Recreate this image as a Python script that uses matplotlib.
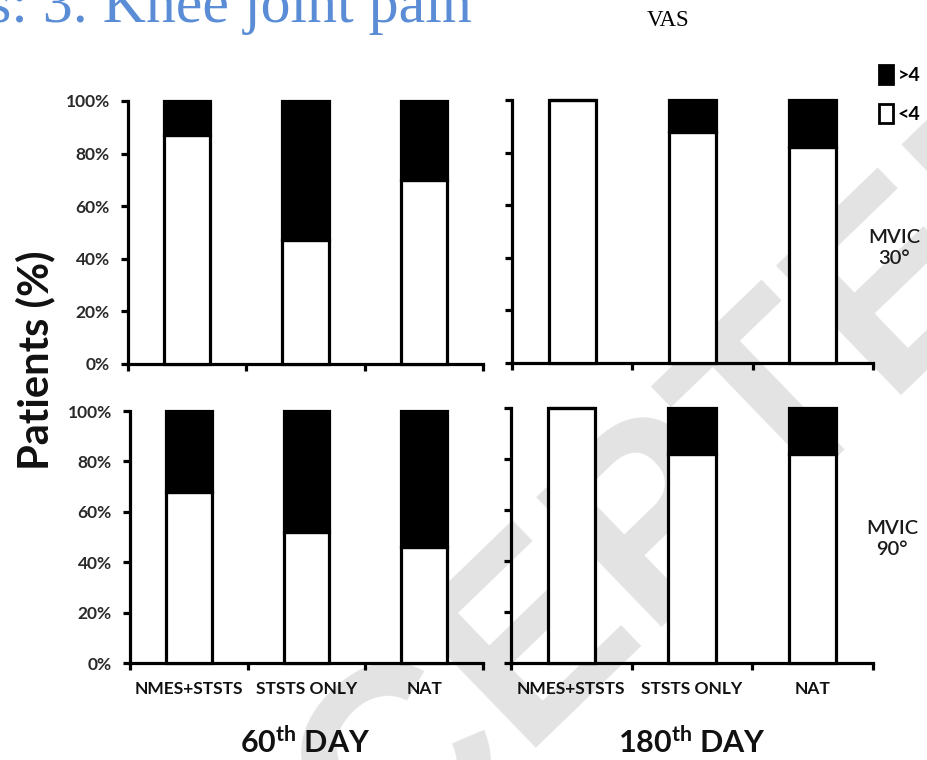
import matplotlib
matplotlib.use('Agg')
import matplotlib.pyplot as plt
from matplotlib.patches import Patch

groups = ['NMES+STSTS', 'STSTS ONLY', 'NAT']
# percent of patients with VAS < 4 (remainder is VAS > 4)
low_60_mvic30 = [87, 47, 70]
low_180_mvic30 = [100, 88, 82]
low_60_mvic90 = [68, 52, 46]
low_180_mvic90 = [100, 82, 82]
yticks = [0, 20, 40, 60, 80, 100]
ytick_labels = ['0%', '20%', '40%', '60%', '80%', '100%']

plt.rcParams['font.family'] = ['Lato', 'DejaVu Sans']
plt.rcParams['mathtext.fontset'] = 'custom'
plt.rcParams['mathtext.rm'] = 'Lato'
plt.rcParams['mathtext.bf'] = 'Lato:bold'

W, H = 927.0, 760.0
fig = plt.figure(figsize=(W / 100, H / 100), dpi=100)


def box(x0, y0, x1, y1):
    # pixel box (top-left origin) -> figure fraction rect
    return [x0 / W, 1 - y1 / H, (x1 - x0) / W, (y1 - y0) / H]


def draw_panel(rect, low, show_y, show_x):
    ax = fig.add_axes(rect)
    ax.set_facecolor('none')
    x = list(range(len(groups)))
    high = [100 - v for v in low]
    ax.bar(x, low, width=0.39, color='white', edgecolor='black', linewidth=2.3,
           zorder=3, clip_on=False)
    ax.bar(x, high, bottom=low, width=0.39, color='black', edgecolor='black',
           linewidth=2.3, zorder=3, clip_on=False)
    ax.set_xlim(-0.5, 2.5)
    ax.set_ylim(0, 100)
    for s in ['top', 'right']:
        ax.spines[s].set_visible(False)
    for s in ['left', 'bottom']:
        ax.spines[s].set_linewidth(2.3)
    ax.set_yticks(yticks)
    ax.set_yticklabels(ytick_labels if show_y else [])
    ax.set_xticks([-0.5, 0.5, 1.5, 2.5])
    ax.set_xticklabels([])
    ax.set_xticks(x, minor=True)
    ax.set_xticklabels(groups if show_x else [], minor=True)
    ax.tick_params(axis='both', which='major', direction='out', length=5, width=2.3)
    ax.tick_params(axis='y', labelsize=12.5, pad=8, labelcolor='#2a2a2a')
    ax.tick_params(axis='x', which='minor', length=0, pad=13, labelsize=12.5,
                   labelcolor='#111111')
    for lab in ax.get_yticklabels() + ax.get_xticklabels(minor=True):
        lab.set_fontweight('bold')
    return ax


draw_panel(box(128, 101, 483, 364), low_60_mvic30, True, False)
draw_panel(box(512, 100, 873, 363), low_180_mvic30, False, False)
draw_panel(box(130, 411, 483, 663), low_60_mvic90, True, True)
draw_panel(box(511, 408, 873, 663), low_180_mvic90, False, True)

# watermark behind everything
fig.text(585 / W, 1 - 600 / H, 'ACCEPTED', rotation=44, fontsize=188, color='#e3e3e3',
         family='Liberation Sans', weight='bold', ha='center', va='center', zorder=-5)

fig.text(472 / W, 1 - 22 / H, 's: 3. Knee joint pain', family='Liberation Serif',
         fontsize=43, color='#5b8dd6', ha='right', va='baseline')
fig.text(668 / W, 1 - 21 / H, 'VAS', family='Liberation Serif', fontsize=16.5,
         color='black', ha='center', va='center')

fig.text(35 / W, 1 - 360 / H, 'Patients (%)', rotation=90, fontsize=30,
         weight='bold', color='#111111', ha='center', va='center')

fig.text(305 / W, 1 - 742 / H, '60$^{\\mathbf{th}}$ DAY', fontsize=22, weight='bold',
         color='#111111', ha='center', va='center')
fig.text(692 / W, 1 - 742 / H, '180$^{\\mathbf{th}}$ DAY', fontsize=22, weight='bold',
         color='#111111', ha='center', va='center')

fig.text(894 / W, 1 - 248 / H, 'MVIC\n30°', fontsize=14.5, color='#1a1a1a',
         ha='center', va='center', linespacing=1.3, weight='semibold')
fig.text(892 / W, 1 - 539 / H, 'MVIC\n90°', fontsize=14.5, color='#1a1a1a',
         ha='center', va='center', linespacing=1.3, weight='semibold')

handles = [Patch(facecolor='black', edgecolor='black', linewidth=2),
           Patch(facecolor='white', edgecolor='black', linewidth=2)]
fig.legend(handles, ['>4', '<4'], loc='upper left', bbox_to_anchor=(861 / W, 1 - 48 / H),
           frameon=False, handlelength=0.75, handleheight=1.1, handletextpad=0.25,
           labelspacing=1.0, prop={'size': 14, 'weight': 'bold'})

fig.savefig('out.png', dpi=100, facecolor='white')
